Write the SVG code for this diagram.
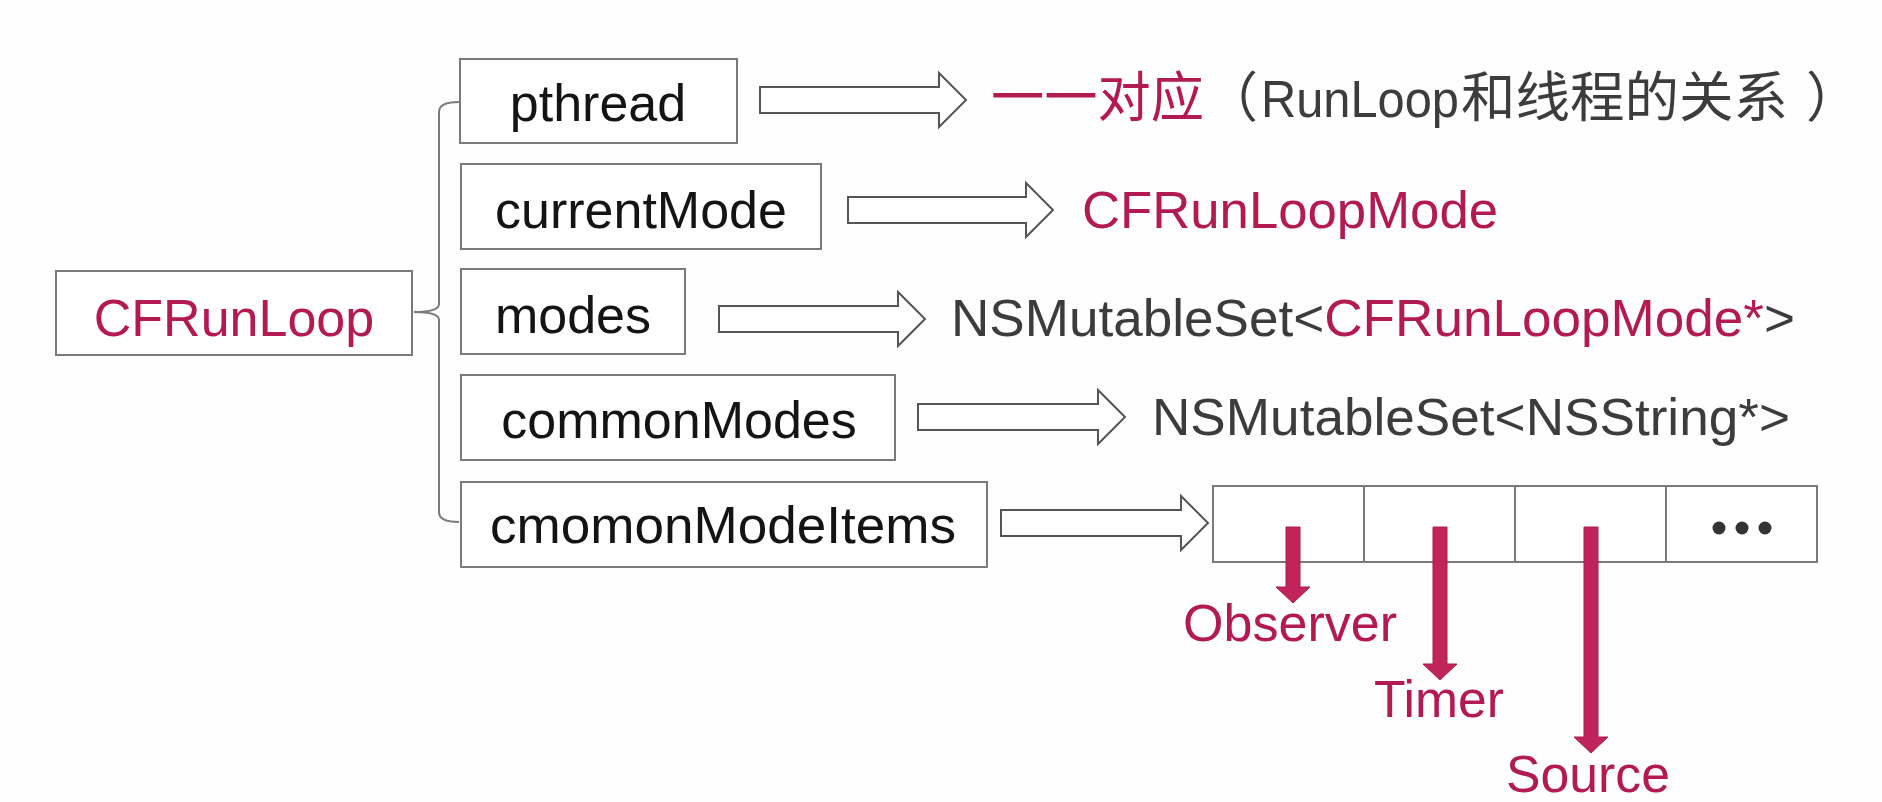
<svg xmlns="http://www.w3.org/2000/svg" width="1882" height="802" viewBox="0 0 1882 802">
<style>
.box{fill:#fff;stroke:#7a7a7a;stroke-width:2}
.lbl{font-family:"Liberation Sans",Arial,"Noto Sans CJK SC",sans-serif;font-size:52px;fill:#141414}
.cjk{font-family:"Noto Sans CJK SC","Liberation Sans",sans-serif;font-size:54px}
.red{fill:#b31a52}
.gray{fill:#3c3c3c}
.blk{fill:#fff;stroke:#555;stroke-width:2;stroke-linejoin:miter}
.rarrow{fill:#c0245a;stroke:#a81d4c;stroke-width:1}
.br{fill:none;stroke:#7a7a7a;stroke-width:2}
.cell{fill:#fff;stroke:#7a7a7a;stroke-width:2}
</style>
<rect width="1882" height="802" fill="#fefefe"/>

<g id="connectors">
  <path class="br" d="M459,102 Q439,102 439,112 L439,304 Q439,312 414,312 Q439,312 439,320 L439,512 Q439,522 459,522"/>
  <polygon class="blk" points="760,87 939,87 939,73 966,100 939,127 939,113 760,113"/>
  <polygon class="blk" points="848,197 1026,197 1026,183 1053,210 1026,237 1026,223 848,223"/>
  <polygon class="blk" points="719,306 898,306 898,292 925,319 898,346 898,332 719,332"/>
  <polygon class="blk" points="918,404 1098,404 1098,390 1125,417 1098,444 1098,430 918,430"/>
  <polygon class="blk" points="1001,510 1181,510 1181,496 1208,523 1181,550 1181,536 1001,536"/>
</g>

<g id="cfrunloop">
  <rect class="box" x="56" y="271" width="356" height="84"/>
  <text class="lbl red" x="234" y="336" text-anchor="middle">CFRunLoop</text>
</g>

<g id="pthread">
  <rect class="box" x="460" y="59" width="277" height="84"/>
  <text class="lbl" x="598" y="121" text-anchor="middle">pthread</text>
</g>

<g id="currentMode">
  <rect class="box" x="461" y="164" width="360" height="85"/>
  <text class="lbl" x="641" y="228" text-anchor="middle">currentMode</text>
</g>

<g id="modes">
  <rect class="box" x="461" y="269" width="224" height="85"/>
  <text class="lbl" x="573" y="333" text-anchor="middle">modes</text>
</g>

<g id="commonModes">
  <rect class="box" x="461" y="375" width="434" height="85"/>
  <text class="lbl" x="679" y="438" text-anchor="middle">commonModes</text>
</g>

<g id="cmomonModeItems">
  <rect class="box" x="461" y="482" width="526" height="85"/>
  <text class="lbl" x="723" y="543" text-anchor="middle" textLength="466" lengthAdjust="spacingAndGlyphs">cmomonModeItems</text>
</g>

<g id="pthread-desc">
  <text class="cjk red" x="991" y="117" textLength="213" lengthAdjust="spacingAndGlyphs">一一对应</text>
  <text class="cjk gray" x="1204" y="117">（</text>
  <text class="lbl gray" x="1261" y="117" textLength="198" lengthAdjust="spacingAndGlyphs">RunLoop</text>
  <text class="cjk gray" x="1461" y="117" textLength="327" lengthAdjust="spacingAndGlyphs">和线程的关系</text>
  <text class="cjk gray" x="1806" y="117">）</text>
</g>

<g id="currentMode-desc">
  <text class="lbl red" x="1082" y="228" textLength="416" lengthAdjust="spacingAndGlyphs">CFRunLoopMode</text>
</g>

<g id="modes-desc">
  <text class="lbl gray" x="951" y="336" textLength="844" lengthAdjust="spacingAndGlyphs">NSMutableSet&lt;<tspan class="red">CFRunLoopMode*</tspan>&gt;</text>
</g>

<g id="commonModes-desc">
  <text class="lbl gray" x="1152" y="435" textLength="638" lengthAdjust="spacingAndGlyphs">NSMutableSet&lt;NSString*&gt;</text>
</g>

<g id="items-table">
  <rect class="cell" x="1213" y="486" width="151" height="76"/>
  <rect class="cell" x="1364" y="486" width="151" height="76"/>
  <rect class="cell" x="1515" y="486" width="151" height="76"/>
  <rect class="cell" x="1666" y="486" width="151" height="76"/>
  <circle cx="1719" cy="528" r="6.5" fill="#333"/>
  <circle cx="1742" cy="528" r="6.5" fill="#333"/>
  <circle cx="1765" cy="528" r="6.5" fill="#333"/>
</g>

<g id="item-arrows">
  <polygon class="rarrow" points="1286,527 1300,527 1300,587 1310,587 1293,603 1276,587 1286,587"/>
  <polygon class="rarrow" points="1433,527 1447,527 1447,664 1457,664 1440,680 1423,664 1433,664"/>
  <polygon class="rarrow" points="1584,527 1598,527 1598,737 1608,737 1591,753 1574,737 1584,737"/>
</g>

<g id="observer">
  <text class="lbl red" x="1183" y="641" textLength="214" lengthAdjust="spacingAndGlyphs">Observer</text>
</g>
<g id="timer">
  <text class="lbl red" x="1374" y="717" textLength="130" lengthAdjust="spacingAndGlyphs">Timer</text>
</g>
<g id="source">
  <text class="lbl red" x="1506" y="792" textLength="164" lengthAdjust="spacingAndGlyphs">Source</text>
</g>
</svg>
